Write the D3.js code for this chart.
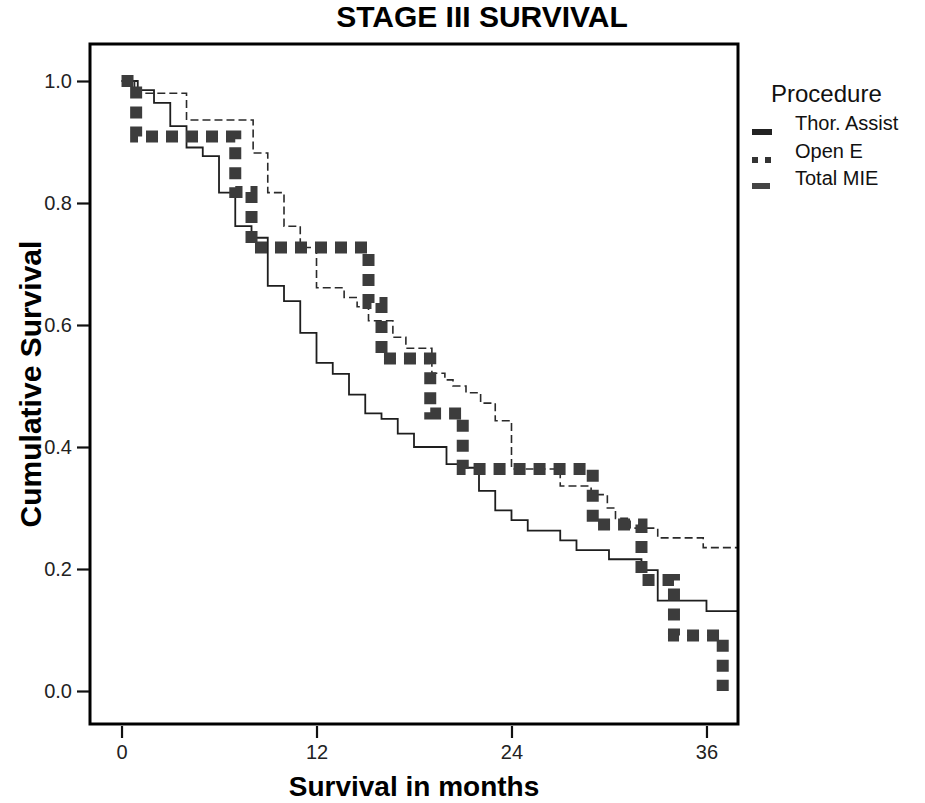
<!DOCTYPE html>
<html>
<head>
<meta charset="utf-8">
<script src="https://cdn.jsdelivr.net/npm/d3@7"></script>
<style>
  body { margin: 0; background: #fff; }
  svg { display: block; font-family: "Liberation Sans", Arial, sans-serif; }
</style>
</head>
<body>
<div id="chart"></div>
<script>
// Data (months, cumulative survival)
const procedures = ["Thor. Assist", "Open E", "Total MIE"];

const thorTimes = [0, 1, 2, 3, 4, 5, 6, 7, 8, 9, 10, 11, 12, 13, 14, 15, 16, 17, 18, 20, 21, 22, 23, 24, 25, 27, 28, 30, 32, 33, 36];
const thorSurv  = [1.0, 0.985, 0.964, 0.926, 0.891, 0.877, 0.817, 0.762, 0.743, 0.664, 0.639, 0.587, 0.538, 0.520, 0.486, 0.455, 0.446, 0.422, 0.400, 0.372, 0.366, 0.328, 0.296, 0.280, 0.263, 0.247, 0.231, 0.216, 0.198, 0.148, 0.131];
const thorEnd = 38;

const openTimes = [0, 0.9, 7, 8, 15.2, 16, 19, 21, 29, 32, 34, 37];
const openSurv  = [1.0, 0.909, 0.818, 0.727, 0.636, 0.545, 0.455, 0.364, 0.273, 0.182, 0.091, 0.0];
const openEnd = 37;

const mieTimes = [0, 0.8, 4.0, 8.1, 9.0, 10.0, 11.0, 12.0, 13.7, 14.5, 15.2, 16.7, 17.5, 19.1, 19.9, 20.4, 21.2, 22.1, 23.0, 24.0, 27.0, 28.9, 29.9, 30.4, 31.3, 33.0, 35.8];
const mieSurv  = [1.0, 0.980, 0.936, 0.882, 0.817, 0.762, 0.727, 0.661, 0.645, 0.630, 0.607, 0.580, 0.562, 0.521, 0.510, 0.500, 0.489, 0.472, 0.443, 0.364, 0.336, 0.322, 0.300, 0.283, 0.267, 0.251, 0.235];
const mieEnd = 38;

const xTicks = [0, 12, 24, 36];
const yTicks = [0.0, 0.2, 0.4, 0.6, 0.8, 1.0];

const W = 925, H = 803;
const frame = { left: 90, top: 44, right: 738, bottom: 724 };

const svg = d3.select("#chart").append("svg")
    .attr("width", W)
    .attr("height", H);

const x = d3.scaleLinear()
    .domain([-1.94, 37.94])
    .range([frame.left, frame.right]);

const y = d3.scaleLinear()
    .domain([0, 1])
    .range([691, 81]);

// clip
svg.append("clipPath").attr("id", "plotclip")
    .append("rect")
    .attr("x", frame.left).attr("y", frame.top)
    .attr("width", frame.right - frame.left)
    .attr("height", frame.bottom - frame.top);

function toPoints(times, surv, end) {
    const pts = times.map((t, i) => [t, surv[i]]);
    pts.push([end, surv[surv.length - 1]]);
    return pts;
}

const line = d3.line()
    .x(d => x(d[0]))
    .y(d => y(d[1]))
    .curve(d3.curveStepAfter);

const series = [
    { name: "Thor. Assist", pts: toPoints(thorTimes, thorSurv, thorEnd), stroke: "#1e1e1e", width: 1.8, dash: null },
    { name: "Total MIE", pts: toPoints(mieTimes, mieSurv, mieEnd), stroke: "#2a2a2a", width: 1.6, dash: "8,4" },
    { name: "Open E", pts: toPoints(openTimes, openSurv, openEnd), stroke: "#3c3c3c", width: 12, dash: "12,8" }
];

const plot = svg.append("g").attr("clip-path", "url(#plotclip)");

series.forEach(s => {
    plot.append("path")
        .datum(s.pts)
        .attr("fill", "none")
        .attr("stroke", s.stroke)
        .attr("stroke-width", s.width)
        .attr("stroke-dasharray", s.dash)
        .attr("d", line);
});

// frame
svg.append("rect")
    .attr("x", frame.left).attr("y", frame.top)
    .attr("width", frame.right - frame.left)
    .attr("height", frame.bottom - frame.top)
    .attr("fill", "none")
    .attr("stroke", "#000")
    .attr("stroke-width", 3);

// Y axis
const yAxis = svg.append("g")
    .attr("transform", `translate(${frame.left - 1},0)`)
    .call(d3.axisLeft(y).tickValues(yTicks).tickFormat(d3.format(".1f")).tickSize(12).tickPadding(5));
yAxis.select(".domain").remove();
yAxis.selectAll(".tick line").attr("stroke", "#111").attr("stroke-width", 2.2);
yAxis.selectAll(".tick text")
    .attr("fill", "#222")
    .style("font-size", "20px");

// X axis
const xAxis = svg.append("g")
    .attr("transform", `translate(0,${frame.bottom + 2})`)
    .call(d3.axisBottom(x).tickValues(xTicks).tickSize(12).tickPadding(7));
xAxis.select(".domain").remove();
xAxis.selectAll(".tick line").attr("stroke", "#111").attr("stroke-width", 2.2);
xAxis.selectAll(".tick text")
    .attr("fill", "#222")
    .style("font-size", "20px");

// Titles
svg.append("text")
    .attr("x", 482).attr("y", 27)
    .attr("text-anchor", "middle")
    .style("font-size", "30px")
    .style("font-weight", "bold")
    .text("STAGE III SURVIVAL");

svg.append("text")
    .attr("x", 414).attr("y", 796)
    .attr("text-anchor", "middle")
    .style("font-size", "28px")
    .style("font-weight", "bold")
    .text("Survival in months");

svg.append("text")
    .attr("transform", `translate(41,384) rotate(-90)`)
    .attr("text-anchor", "middle")
    .style("font-size", "30px")
    .style("font-weight", "bold")
    .text("Cumulative Survival");

// Legend
const legend = svg.append("g");
legend.append("text")
    .attr("x", 771).attr("y", 102)
    .style("font-size", "24px")
    .attr("fill", "#111")
    .text("Procedure");

const legendRows = [
    { label: procedures[0], y: 130, sy: 132, dash: null, stroke: "#222", x2: 772 },
    { label: procedures[1], y: 158, sy: 160, dash: "6,7", stroke: "#333", x2: 771 },
    { label: procedures[2], y: 185, sy: 186, dash: null, stroke: "#444", x2: 770 }
];
legendRows.forEach(r => {
    legend.append("line")
        .attr("x1", 752).attr("x2", r.x2)
        .attr("y1", r.sy).attr("y2", r.sy)
        .attr("stroke", r.stroke)
        .attr("stroke-width", 6)
        .attr("stroke-dasharray", r.dash);
    legend.append("text")
        .attr("x", 795).attr("y", r.y)
        .style("font-size", "20px")
        .attr("fill", "#111")
        .text(r.label);
});
</script>
</body>
</html>
